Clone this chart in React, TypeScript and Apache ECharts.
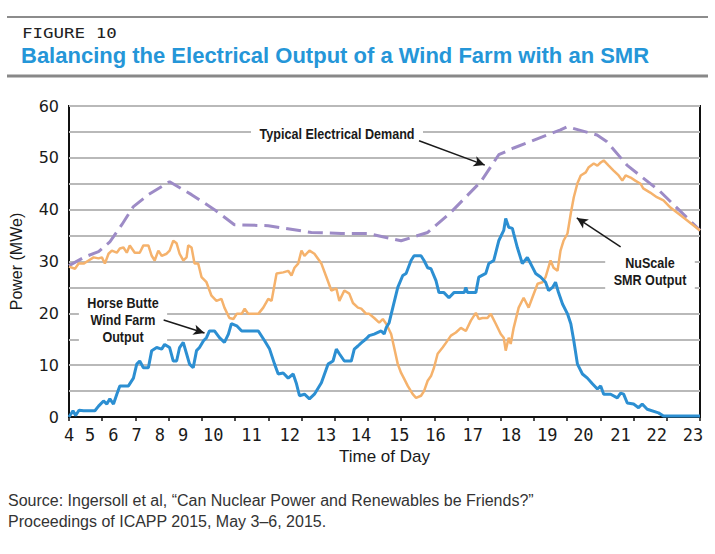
import React, { useEffect, useRef } from "react";
import * as echarts from "echarts";

// ---- Data ----
const hourTicks = [4, 5, 6, 7, 8, 9, 10, 11, 12, 13, 14, 15, 16, 17, 18, 19, 20, 21, 22, 23];
const hourLabels = ["4", "5", "6", "7", "8", "9", "10", "11", "12", "13", "14", "15", "16", "17", "18", "19", "20", "21", "22", "23"];

const demandHours = [4.0, 4.48, 4.89, 5.23, 5.59, 5.94, 6.39, 7.03, 7.69, 8.38, 8.98, 10.0, 11.3, 12.2, 13.0, 14.0, 14.8, 15.5, 16.4, 16.94, 17.39, 18.8, 19.0, 19.9, 20.2, 20.8, 21.8, 23.0];
const demandValues = [29.2, 30.9, 31.9, 33.8, 37.1, 40.6, 42.9, 45.4, 42.9, 40.0, 37.1, 36.9, 35.6, 35.4, 35.4, 34.0, 35.6, 39.5, 45.4, 50.6, 51.9, 55.4, 56.0, 54.4, 53.1, 48.6, 43.5, 36.0];

const windHours = [4.0, 4.12, 4.2, 4.3, 4.44, 4.78, 4.89, 5.04, 5.14, 5.23, 5.34, 5.44, 5.53, 5.79, 5.94, 6.04, 6.13, 6.24, 6.39, 6.49, 6.64, 6.79, 6.88, 7.03, 7.14, 7.24, 7.33, 7.44, 7.54, 7.63, 7.74, 7.84, 7.93, 8.05, 8.14, 8.23, 8.38, 8.53, 8.68, 8.8, 8.89, 9.05, 9.2, 9.5, 9.7, 9.89, 10.04, 10.19, 10.3, 10.45, 10.6, 10.75, 10.85, 10.94, 11.09, 11.24, 11.39, 11.6, 11.8, 11.95, 12.05, 12.14, 12.29, 12.5, 12.59, 12.7, 12.8, 12.95, 13.04, 13.19, 13.4, 13.49, 13.55, 13.64, 13.75, 13.9, 14.05, 14.15, 14.3, 14.39, 14.6, 14.69, 14.8, 14.9, 15.05, 15.14, 15.29, 15.44, 15.59, 15.9, 15.95, 16.0, 16.25, 16.34, 16.55, 16.64, 16.79, 16.94, 17.09, 17.15, 17.24, 17.35, 17.39, 17.5, 17.65, 17.8, 17.9, 18.05, 18.2, 18.35, 18.44, 18.56, 18.65, 18.74, 18.86, 19.01, 19.11, 19.2, 19.31, 19.46, 19.61, 19.76, 19.91, 20.01, 20.1, 20.31, 20.51, 20.61, 20.7, 20.81, 21.0, 21.15, 21.26, 21.41, 21.75, 21.9, 23.0];
const windValues = [0, 1.2, 0.3, 1.3, 1.2, 1.2, 2.1, 3.1, 2.5, 3.5, 2.5, 4.4, 6, 6, 7.5, 10.2, 10.8, 9.5, 9.5, 12.8, 13.4, 13.1, 14, 13.4, 10.8, 10.8, 13.4, 14.4, 12.2, 10.2, 9.5, 12.8, 13.4, 14.7, 15.3, 16.6, 16.6, 15.3, 14.4, 16, 18, 17.6, 16.6, 16.6, 16.6, 14.7, 13.1, 10.2, 8.3, 8.5, 7.5, 8.3, 6.4, 4.1, 4.4, 3.5, 4.4, 6.6, 10.2, 10.8, 13.1, 12.2, 10.8, 10.8, 13.1, 13.7, 14.3, 15.1, 15.7, 16, 16.6, 16, 17.2, 18.2, 21.1, 25, 27.3, 27.7, 30.2, 31.1, 31.1, 30.2, 28.8, 28.6, 26.3, 24, 24, 23, 24, 24, 25, 24, 24, 27, 27.7, 29.6, 30.2, 34, 36, 38.3, 36.6, 36.4, 35.4, 32.7, 29.6, 30.8, 29.6, 27.7, 27, 26, 24.4, 25, 26, 24, 21.8, 19.9, 18, 14.7, 10.2, 8.3, 7.5, 6.4, 5.4, 6, 4.4, 4.4, 3.7, 4.6, 4.4, 2.7, 2.5, 1.8, 2.5, 1.5, 0.8, 0.2, 0.2];

const smrHours = [4.0, 4.18, 4.29, 4.44, 4.59, 4.74, 4.89, 4.99, 5.08, 5.19, 5.29, 5.44, 5.53, 5.64, 5.74, 5.83, 5.98, 6.13, 6.24, 6.39, 6.49, 6.58, 6.69, 6.79, 6.94, 7.03, 7.14, 7.24, 7.33, 7.44, 7.54, 7.59, 7.69, 7.78, 7.89, 7.99, 8.14, 8.29, 8.44, 8.59, 8.68, 8.83, 8.95, 9.05, 9.2, 9.29, 9.4, 9.7, 9.85, 10.0, 10.1, 10.25, 10.45, 10.6, 10.7, 10.79, 10.9, 11.0, 11.09, 11.24, 11.39, 11.6, 11.75, 11.9, 12.05, 12.14, 12.29, 12.44, 12.55, 12.7, 12.8, 12.95, 13.04, 13.19, 13.34, 13.45, 13.55, 13.7, 13.79, 13.9, 14.0, 14.09, 14.2, 14.35, 14.45, 14.6, 14.69, 14.8, 14.9, 14.99, 15.1, 15.25, 15.35, 15.5, 15.65, 15.8, 15.95, 16.1, 16.25, 16.34, 16.45, 16.6, 16.7, 16.85, 17.0, 17.09, 17.15, 17.24, 17.3, 17.39, 17.54, 17.69, 17.84, 17.95, 18.11, 18.26, 18.35, 18.5, 18.59, 18.71, 18.8, 18.89, 19.01, 19.11, 19.2, 19.31, 19.41, 19.56, 19.65, 19.8, 19.91, 20.01, 20.1, 20.25, 20.39, 20.55, 20.66, 20.76, 20.91, 21.05, 21.21, 21.29, 21.5, 21.7, 21.9, 22.11, 22.5, 23.0];
const smrValues = [29, 28.6, 29.6, 29.6, 30.2, 30.8, 30.6, 30.8, 29.6, 31.5, 32.1, 31.7, 32.5, 32.7, 31.7, 33.1, 31.7, 31.7, 33.1, 33.1, 31.1, 30.2, 32.1, 31.1, 31.5, 32.1, 34, 33.5, 31.5, 30.2, 30.8, 33.1, 32.7, 29.6, 29.6, 27, 26, 23.4, 22.4, 22.8, 21.1, 19.1, 18.9, 19.9, 19.9, 20.9, 19.9, 19.9, 21.1, 22.8, 22.4, 27.7, 27.9, 28.2, 27.3, 28.8, 29.6, 32.1, 31.1, 32.1, 31.5, 29.6, 27, 24.4, 24.8, 22.4, 24.4, 23.8, 22, 21.1, 20.9, 19.9, 19.9, 19.1, 18.2, 18.9, 18, 16, 13.4, 10.2, 8.5, 7.4, 6, 4.4, 3.7, 4.1, 5, 7, 7.9, 9.5, 12.2, 13.4, 14.3, 15.7, 16.3, 17.2, 16.6, 18.6, 20.1, 18.9, 19.1, 19.1, 19.9, 18, 16, 15.3, 12.8, 15.3, 14.1, 17.2, 21.1, 23, 21.1, 23, 25.7, 26, 27, 30.2, 28.8, 28.2, 32.1, 34, 35.4, 39.3, 42.4, 45.1, 46.6, 47.2, 48.2, 48.9, 48.5, 49.1, 49.5, 48.5, 47.6, 46.6, 45.6, 46.6, 46.2, 45.6, 45, 44.1, 43.3, 42.4, 41.8, 40.4, 38.5, 36];

// annotation arrows (data coordinates: [hour, MWe])
const arrowFrom = [[14.54, 53.3], [6.85, 18.7], [20.61, 32.8]];
const arrowTo = [[16.52, 48.6], [8.08, 16.2], [19.29, 38.4]];

// ---- Layout / style (not data) ----
const labelShift = [0, -12, -22, -32, -42, -52, -55, -50, -45, -42, -40, -35, -32, -28, -23, -20, -17, -13, -10, -7];
const SANS = "'Liberation Sans', Arial, sans-serif";
const MONO = "'DejaVu Sans Mono', 'Liberation Mono', monospace";

function zip(xs: number[], ys: number[]) {
  return xs.map((x, i) => [x, ys[i]]);
}

export default function App() {
  const ref = useRef<HTMLDivElement>(null);
  useEffect(() => {
    const chart = echarts.init(ref.current as HTMLDivElement, null, { renderer: "svg" });
    const rich: Record<string, any> = {};
    hourLabels.forEach((_, i) => {
      const d = labelShift[i];
      rich["s" + i] = {
        fontFamily: MONO,
        fontSize: 17,
        color: "#1a1a1a",
        padding: [0, d < 0 ? -2 * d : 0, 0, d > 0 ? 2 * d : 0],
      };
    });
    const arrowData = arrowFrom.map((f, i) => [{ coord: f }, { coord: arrowTo[i] }]);

    const noteStyle = {
      fill: "#1a1a1a",
      fontFamily: SANS,
      fontWeight: "bold",
      fontSize: 15,
      lineHeight: 17,
      align: "center",
      verticalAlign: "middle",
      backgroundColor: "#ffffff",
    };

    const option: any = {
      animation: false,
      backgroundColor: "#ffffff",
      grid: {
        left: 67,
        right: 15,
        top: 106,
        height: 311,
        show: true,
        borderColor: "#111",
        borderWidth: 2,
        backgroundColor: "transparent",
      },
      xAxis: {
        type: "value",
        min: 4,
        max: 23,
        interval: 1,
        name: "Time of Day",
        nameLocation: "middle",
        nameGap: 31,
        nameTextStyle: { fontFamily: SANS, fontSize: 17, color: "#1a1a1a" },
        axisLine: { show: true, lineStyle: { color: "#111", width: 2 } },
        axisTick: { show: true, inside: false, length: 4, lineStyle: { color: "#111", width: 1.5 } },
        splitLine: { show: false },
        axisLabel: {
          margin: 9,
          showMinLabel: true,
          showMaxLabel: true,
          formatter: (v: number) => {
            const i = hourTicks.indexOf(Math.round(v));
            return i < 0 ? "" : `{s${i}|${hourLabels[i]}}`;
          },
          rich,
        },
      },
      yAxis: {
        type: "value",
        min: 0,
        max: 60,
        interval: 5,
        name: "Power (MWe)",
        nameLocation: "middle",
        nameGap: 45,
        nameRotate: 90,
        nameTextStyle: { fontFamily: SANS, fontSize: 16, color: "#1a1a1a" },
        axisLine: { show: false },
        axisTick: { show: false },
        splitLine: { show: true, lineStyle: { color: "#b9b9b9", width: 2 } },
        axisLabel: {
          margin: 10,
          fontFamily: "'DejaVu Sans', sans-serif",
          fontSize: 16,
          color: "#1a1a1a",
          formatter: (v: number) => (v % 10 === 0 ? String(v) : ""),
        },
      },
      series: [
        {
          name: "Typical Electrical Demand",
          type: "line",
          data: zip(demandHours, demandValues),
          showSymbol: false,
          silent: true,
          lineStyle: { color: "#9d8bc6", width: 3, type: [15, 7] },
          z: 2,
          markLine: {
            silent: true,
            symbol: ["none", "arrow"],
            symbolSize: [8, 11],
            label: { show: false },
            lineStyle: { color: "#1a1a1a", width: 1.5, type: "solid" },
            data: arrowData,
          },
        },
        {
          name: "NuScale SMR Output",
          type: "line",
          data: zip(smrHours, smrValues),
          showSymbol: false,
          silent: true,
          lineStyle: { color: "#f5b26c", width: 2.5 },
          z: 3,
        },
        {
          name: "Horse Butte Wind Farm Output",
          type: "line",
          data: zip(windHours, windValues),
          showSymbol: false,
          silent: true,
          lineStyle: { color: "#2c8fd2", width: 3 },
          z: 4,
        },
      ],
      graphic: [
        { type: "line", shape: { x1: 7, y1: 17, x2: 708, y2: 17 }, style: { stroke: "#1a1a1a", lineWidth: 1.2 } },
        { type: "line", shape: { x1: 7, y1: 76, x2: 708, y2: 76 }, style: { stroke: "#888888", lineWidth: 3 } },
        {
          type: "text", x: 22, y: 33, scaleX: 1.25,
          style: { text: "FIGURE 10", fill: "#222", fontFamily: MONO, fontSize: 14, align: "left", verticalAlign: "middle" },
        },
        {
          type: "text", x: 21, y: 55,
          style: { text: "Balancing the Electrical Output of a Wind Farm with an SMR", fill: "#2596d8", fontFamily: SANS, fontWeight: "bold", fontSize: 22, align: "left", verticalAlign: "middle" },
        },
        {
          type: "text", x: 337, y: 134, z: 1, scaleX: 0.84,
          style: { ...noteStyle, text: "Typical Electrical Demand", padding: [3, 10] },
        },
        {
          type: "text", x: 123, y: 320, z: 1, scaleX: 0.84,
          style: { ...noteStyle, text: "Horse Butte\nWind Farm\nOutput", padding: [2, 10] },
        },
        {
          type: "text", x: 650, y: 271, z: 1, scaleX: 0.84,
          style: { ...noteStyle, text: "NuScale\nSMR Output", padding: [2, 10] },
        },
        {
          type: "text", x: 8, y: 500,
          style: { text: "Source: Ingersoll et al, \u201cCan Nuclear Power and Renewables be Friends?\u201d", fill: "#333", fontFamily: SANS, fontSize: 16, align: "left", verticalAlign: "middle" },
        },
        {
          type: "text", x: 8, y: 521,
          style: { text: "Proceedings of ICAPP 2015, May 3\u20136, 2015.", fill: "#333", fontFamily: SANS, fontSize: 16, align: "left", verticalAlign: "middle" },
        },
      ],
    };
    chart.setOption(option);
    return () => chart.dispose();
  }, []);
  return (
    <div
      ref={ref}
      style={{ position: "absolute", left: 0, top: 0, width: 715, height: 554, background: "#fff" }}
    />
  );
}
